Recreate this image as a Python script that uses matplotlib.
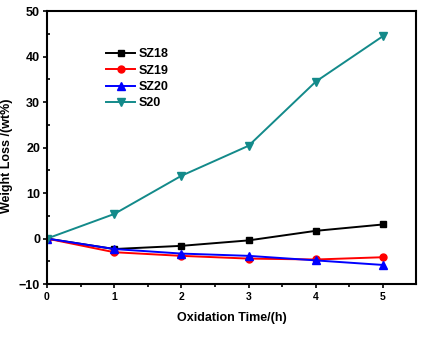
import numpy as np
import matplotlib
matplotlib.use("Agg")
import matplotlib.pyplot as plt
from matplotlib.ticker import MultipleLocator

plt.rcParams['font.family'] = ['Liberation Sans', 'DejaVu Sans']
plt.rcParams['font.weight'] = 'bold'

time_h = [0, 1, 2, 3, 4, 5]
sz18 = [0, -2.3, -1.6, -0.4, 1.7, 3.1]
sz19 = [0, -3.0, -3.8, -4.4, -4.6, -4.1]
sz20 = [0, -2.3, -3.3, -3.8, -4.8, -5.8]
s20 = [0, 5.4, 13.8, 20.4, 34.5, 44.5]

fig = plt.figure(figsize=(4.21, 3.46), dpi=100)
ax = fig.add_axes([0.1116, 0.179, 0.8764, 0.789])

ax.plot(time_h, sz18, color='black', marker='s', ms=5, lw=1.4, label='SZ18')
ax.plot(time_h, sz19, color='red', marker='o', ms=5, lw=1.4, label='SZ19')
ax.plot(time_h, sz20, color='blue', marker='^', ms=5.5, lw=1.4, label='SZ20')
ax.plot(time_h, s20, color='#138a8a', marker='v', ms=5.5, lw=1.4, label='S20')

ax.set_xlim(0, 5.49)
ax.set_ylim(-10, 50)
ax.xaxis.set_major_locator(MultipleLocator(1))
ax.xaxis.set_minor_locator(MultipleLocator(0.5))
ax.yaxis.set_major_locator(MultipleLocator(10))
ax.yaxis.set_minor_locator(MultipleLocator(5))

for s in ax.spines.values():
    s.set_linewidth(1.5)
ax.tick_params(axis='both', which='major', direction='out', length=3, width=1.2)
ax.tick_params(axis='x', which='major', labelsize=7.5, pad=3)
ax.tick_params(axis='y', which='major', labelsize=9, pad=2)
ax.tick_params(axis='x', which='minor', direction='out', length=2, width=1.2)
ax.tick_params(axis='y', which='minor', direction='in', length=2.5, width=1.2)

ax.set_xlabel('Oxidation Time/(h)', fontsize=9, fontweight='bold', labelpad=7)
ax.set_ylabel('Weight Loss /(wt%)', fontsize=9, fontweight='bold')
ax.yaxis.set_label_coords(-0.092, 0.47)

ax.legend(loc='upper left', bbox_to_anchor=(0.13, 0.905), frameon=False,
          handlelength=2.3, handletextpad=0.3, labelspacing=0.35,
          prop={'weight': 'bold', 'size': 9})

fig.savefig('out.png', dpi=100)
